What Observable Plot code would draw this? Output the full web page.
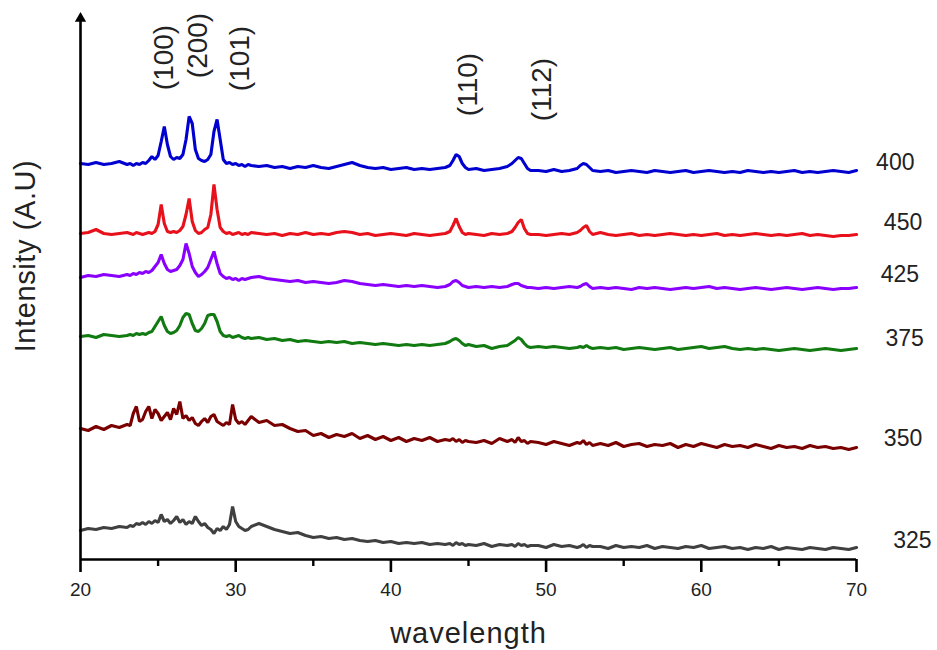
<!DOCTYPE html>
<html>
<head>
<meta charset="utf-8">
<script src="https://cdn.jsdelivr.net/npm/d3@7"></script>
<script src="https://cdn.jsdelivr.net/npm/@observablehq/plot@0.6"></script>
<style>
  html, body { margin: 0; padding: 0; background: #fff; }
  #chart svg { display: block; font-family: "Liberation Sans", Arial, sans-serif; }
</style>
</head>
<body>
<div id="chart"></div>
<script>
// 2θ sample positions (shared by every pattern)
const twoTheta = [
  20, 20.5, 21, 21.5, 22, 22.5, 23,
  23.2, 23.4, 23.6, 23.8, 24.0, 24.2, 24.4, 24.6, 24.8, 25.0,
  25.2, 25.4, 25.6, 25.8, 26.0, 26.2, 26.4, 26.6, 26.8, 27.0,
  27.2, 27.4, 27.6, 27.8, 28.0, 28.2, 28.4, 28.6, 28.8, 29.0,
  29.2, 29.4, 29.6, 29.8, 30.0, 30.2, 30.4, 30.6, 30.8, 31.0,
  31.5, 32, 32.5, 33, 33.5, 34, 34.5, 35, 35.5, 36, 36.5, 37, 37.5, 38, 38.5, 39, 39.5, 40, 40.5, 41, 41.5, 42, 42.5, 43, 43.5,
  43.8, 44.0, 44.2, 44.4, 44.6, 44.8, 45.0,
  45.5, 46, 46.5, 47, 47.5,
  47.8, 48.0, 48.2, 48.4, 48.6, 48.8, 49.0,
  49.5, 50, 50.5, 51, 51.5, 52,
  52.2, 52.4, 52.6, 52.8, 53.0,
  53.5, 54, 54.5, 55, 55.5, 56, 56.5, 57, 57.5, 58, 58.5, 59, 59.5, 60, 60.5, 61, 61.5, 62, 62.5, 63, 63.5, 64, 64.5, 65, 65.5, 66, 66.5, 67, 67.5, 68, 68.5, 69, 69.5, 70
];

// Intensities (arbitrary units, already stacked with offsets)
const i400 = [
  396, 395, 397, 395, 396, 398, 395,
  396, 394, 396, 395, 397, 396, 399, 403, 400, 404,
  418, 433, 415, 403, 400, 402, 401, 405, 420, 443,
  436, 410, 401, 399, 398, 400, 405, 428, 440, 420,
  400, 396, 397, 395, 396, 394, 395, 393, 395, 394,
  393, 394, 392, 393, 391, 393, 392, 394, 392, 391, 393, 395, 397, 394, 392, 391, 392, 390, 391, 392, 390, 391, 390, 391, 392,
  394, 399, 405, 403, 396, 392, 390,
  391, 389, 390, 391, 393,
  396, 399, 402, 401, 396, 391, 389,
  389, 388, 390, 388, 389, 391,
  394, 396, 395, 392, 389,
  388, 389, 387, 388, 389, 388, 387, 389, 388, 387, 388, 389, 387, 388, 389, 388, 387, 388, 387, 389, 388, 387, 388, 387, 388, 389, 387, 388, 387, 388, 389, 388, 387, 389
];
const i450 = [
  326, 327, 330, 326, 325, 326, 327,
  326, 325, 327, 326, 325, 326, 327, 326, 328, 335,
  355, 336, 328, 327, 328, 327, 329, 333, 345, 361,
  338, 329, 326, 327, 330, 332, 345, 375, 350, 332,
  328, 326, 327, 325, 326, 327, 325, 326, 325, 327,
  326, 325, 326, 324, 326, 325, 327, 325, 326, 325, 327, 328, 327, 325, 326, 324, 325, 326, 325, 324, 326, 325, 324, 325, 326,
  328, 334, 341, 333, 327, 325, 326,
  325, 324, 326, 325, 326,
  328, 332, 337, 340, 331, 326, 325,
  325, 324, 325, 326, 325, 327,
  329, 332, 334, 328, 325,
  327, 325, 324, 325, 326, 324, 325, 324, 325, 326, 325, 324, 325, 324, 325, 326, 324, 325, 324, 325, 326, 325, 324, 325, 324, 325, 326, 324, 325, 324, 323, 324, 324, 325
];
const i425 = [
  282, 284, 283, 285, 284, 283, 285,
  284, 286, 285, 287, 286, 288, 287, 289, 293, 297,
  305, 296, 290, 288, 289, 290, 294, 300, 316, 306,
  293, 287, 283, 285, 288, 292, 300, 308, 296, 286,
  283, 281, 282, 280, 281, 279, 281, 280, 281, 282,
  283, 281, 280, 279, 278, 279, 277, 278, 277, 276, 277, 279, 278, 276, 275, 274, 275, 274, 273, 274, 273, 274, 273, 272, 273,
  275, 278, 279, 277, 274, 273, 272,
  273, 272, 273, 272, 273,
  275, 276, 276, 274, 273, 272, 272,
  271, 272, 271, 272, 273, 272,
  273, 275, 276, 273, 271,
  272, 271, 272, 271, 270, 272, 271, 272, 271, 270, 271, 272, 271, 272, 273, 271, 272, 271, 270, 271, 272, 271, 270, 271, 272, 271, 270, 271, 272, 271, 270, 271, 271, 272
];
const i375 = [
  223, 224, 222, 225, 224, 223, 224,
  225, 224, 226, 225, 226, 225, 227, 228, 233, 238,
  243, 234, 228, 226, 227, 229, 234, 242, 246, 245,
  236, 229, 228, 231, 236, 244, 245, 245, 238, 228,
  224, 223, 224, 222, 223, 224, 222, 221, 222, 221,
  222, 220, 221, 219, 220, 218, 219, 218, 217, 218, 217, 218, 216, 217, 216, 215, 216, 215, 214, 215, 214, 215, 214, 215, 216,
  218, 220, 221, 219, 216, 214, 215,
  213, 214, 211, 213, 214,
  217, 219, 222, 220, 216, 213, 212,
  213, 212, 213, 212, 211, 212,
  213, 212, 214, 212, 211,
  212, 211, 212, 210, 211, 212, 211, 210, 211, 212, 210, 211, 212, 213, 211, 212, 213, 211, 210, 211, 210, 211, 210, 209, 210, 211, 210, 209, 210, 211, 210, 209, 210, 211
];
const i350 = [
  131, 129, 133, 130, 134, 132, 135,
  134, 146, 153, 138, 140, 148, 153, 141, 150, 146,
  139, 143, 147, 140, 151, 145, 158, 141, 144, 139,
  142, 136, 134, 138, 141, 137, 143, 145, 138, 136,
  134, 137, 135, 155, 140, 136, 138, 135, 139, 143,
  137, 139, 134, 135, 131, 128, 129, 124, 126, 122, 125, 123, 126, 121, 124, 120, 123, 119, 122, 118, 121, 119, 122, 118, 120,
  119, 121, 118, 120, 117, 119, 118,
  117, 119, 116, 121, 118,
  120, 117, 122, 118, 119, 116, 118,
  117, 115, 118, 116, 114, 117,
  116, 119, 115, 117, 114,
  116, 114, 117, 113, 115, 116, 113, 115, 114, 116, 112, 115, 113, 116, 114, 112, 115, 113, 114, 112, 115, 113, 111, 114, 112, 113, 111, 114, 112, 113, 111, 112, 110, 112
];
const i325 = [
  29, 31, 30, 32, 31, 33, 32,
  34, 33, 36, 35, 37, 35, 38, 36, 39, 37,
  45, 38, 40, 36, 39, 43, 37, 40, 35, 38,
  36, 43, 38, 34, 36, 32, 30, 26, 31, 29,
  33, 30, 35, 53, 38, 33, 31, 29, 30, 33,
  36, 33, 30, 28, 26, 27, 24, 22, 23, 21, 22, 20, 21, 19, 18, 19, 17, 18, 16, 17, 16, 17, 15, 16, 15,
  16, 14, 17, 15, 16, 14, 15,
  14, 16, 13, 15, 14,
  15, 13, 16, 14, 15, 13, 14,
  14, 12, 15, 13, 14, 12,
  13, 15, 12, 14, 13,
  13, 11, 14, 12, 13, 12, 14, 11, 13, 12, 11, 13, 12, 14, 11, 12, 13, 11, 12, 10, 12, 11, 13, 10, 12, 11, 10, 12, 11, 10, 12, 11, 10, 12
];

const seriesNames = ["400", "450", "425", "375", "350", "325"];
const seriesValues = [i400, i450, i425, i375, i350, i325];
const seriesColors = ["#0000d0", "#e8101a", "#8a00ff", "#117a11", "#7a0000", "#404040"];
const labelX = [72.5, 73.0, 72.8, 73.1, 73.0, 73.6];
const labelY = [397, 337, 285, 221, 121, 19];

const peakLabels = ["(100)", "(200)", "(101)", "(110)", "(112)"];
const peakX = [25.35, 27.6, 30.31, 44.94, 49.77];
const peakY = [502, 514, 501, 475, 470];

const majorTicks = [20, 30, 40, 50, 60, 70];
const minorTicks = [25, 35, 45, 55, 65];

const rows = [];
seriesNames.forEach((name, i) => {
  if (seriesValues[i].length !== twoTheta.length) console.error("length mismatch", name, seriesValues[i].length, twoTheta.length);
  twoTheta.forEach((t, j) => rows.push({ t, v: seriesValues[i][j], s: name }));
});
const labels = seriesNames.map((s, i) => ({ s, x: labelX[i], y: labelY[i] }));
const peaks = peakLabels.map((p, i) => ({ p, x: peakX[i], y: peakY[i] }));

const chart = Plot.plot({
  width: 937,
  height: 650,
  marginLeft: 80,
  marginRight: 81,
  marginTop: 20,
  marginBottom: 91,
  style: { fontFamily: "Liberation Sans, Arial, sans-serif", background: "#fff" },
  x: { domain: [20, 70] },
  y: { domain: [0, 539], axis: null },
  color: { domain: seriesNames, range: seriesColors },
  marks: [
    Plot.line(rows, { x: "t", y: "v", z: "s", stroke: "s", strokeWidth: 3.1, strokeLinejoin: "miter" }),
    Plot.ruleY([0], { stroke: "#000", strokeWidth: 2.6 }),
    Plot.ruleX([20], { stroke: "#000", strokeWidth: 2.6 }),
    Plot.dot([0], { frameAnchor: "top-left", symbol: "triangle", r: 4.2, fill: "#000", stroke: "none", dy: -2 }),
    Plot.axisX(majorTicks, { tickSize: 13, tickPadding: 10, fontSize: 19, strokeWidth: 2.6, stroke: "#000", fill: "#222", label: null, tickFormat: d => String(d) }),
    Plot.axisX(minorTicks, { tickSize: 7, strokeWidth: 2.4, stroke: "#000", label: null, tickFormat: () => "" }),
    Plot.text(labels, { x: "x", y: "y", text: "s", textAnchor: "middle", lineAnchor: "middle", fontSize: 23, fill: "#222" }),
    Plot.text(peaks, { x: "x", y: "y", text: "p", rotate: -90, textAnchor: "middle", lineAnchor: "middle", fontSize: 28, fill: "#222" }),
    Plot.text(["wavelength"], { frameAnchor: "bottom", dy: 74, textAnchor: "middle", lineAnchor: "middle", fontSize: 29, fill: "#222" }),
    Plot.text(["Intensity (A.U)"], { frameAnchor: "left", dx: -55, dy: -34, rotate: -90, textAnchor: "middle", lineAnchor: "middle", fontSize: 29, fill: "#222" })
  ]
});
document.getElementById("chart").appendChild(chart);
d3.select(chart).selectAll("text").filter(function () { return this.textContent === "wavelength"; }).attr("letter-spacing", "1px");
d3.select(chart).selectAll("text").filter(function () { return this.textContent === "Intensity (A.U)"; }).attr("letter-spacing", "0.6px");
</script>
</body>
</html>
